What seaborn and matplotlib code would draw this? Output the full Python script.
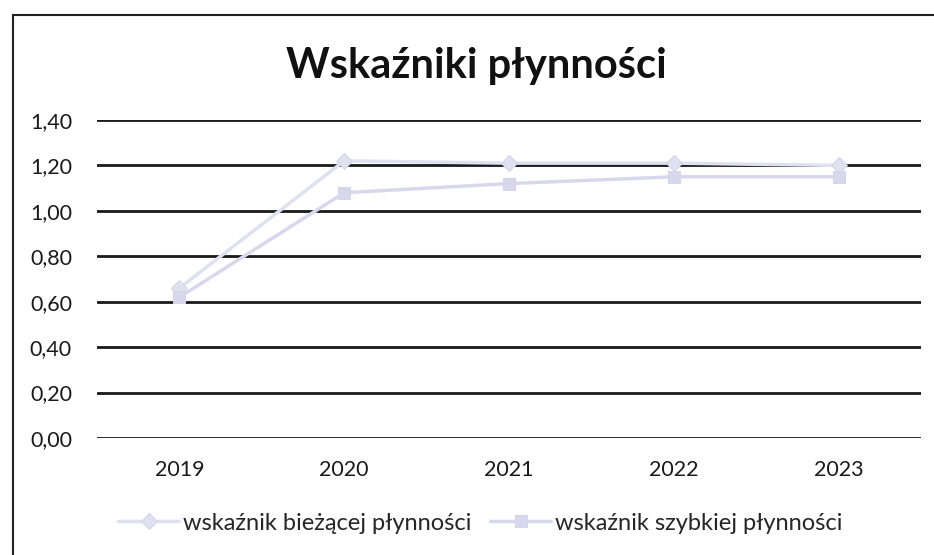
import pandas as pd
import seaborn as sns
import matplotlib.pyplot as plt
from matplotlib.patches import Rectangle
from matplotlib.ticker import FuncFormatter

years = ['2019', '2020', '2021', '2022', '2023']
biezaca = [0.66, 1.22, 1.21, 1.21, 1.20]
szybka = [0.62, 1.08, 1.12, 1.15, 1.15]
series_names = ['wskaźnik bieżącej płynności', 'wskaźnik szybkiej płynności']

df = pd.DataFrame({
    'rok': years * 2,
    'wartosc': biezaca + szybka,
    'seria': [series_names[0]] * 5 + [series_names[1]] * 5,
})

sns.set_style('white')
plt.rcParams['font.family'] = ['Lato', 'DejaVu Sans']

fig = plt.figure(figsize=(9.34, 5.55), dpi=100)
ax = fig.add_axes([97 / 934, 1 - 438 / 555, 824 / 934, 318 / 555])

# frame of the chart area
fig.patches.append(Rectangle((13 / 934, -0.05), 1.0, 1 - 15 / 555 + 0.05,
                             transform=fig.transFigure, fill=False,
                             edgecolor='#222222', linewidth=1.5))

for y in [0, 0.2, 0.4, 0.6, 0.8, 1.0, 1.2, 1.4]:
    ax.axhline(y, color='#1a1a1a', linewidth=2, zorder=0)

sns.lineplot(data=df, x='rok', y='wartosc', hue='seria', style='seria',
             palette=['#e0e0ee', '#d8d8ec'], markers=['D', 's'], dashes=False,
             linewidth=2.5, markersize=8, markeredgecolor='#d4d4ea', ax=ax,
             legend=True)

ax.set_xlim(-0.5, 4.5)
ax.set_ylim(0, 1.4)
ax.set_yticks([0, 0.2, 0.4, 0.6, 0.8, 1.0, 1.2, 1.4])
ax.yaxis.set_major_formatter(FuncFormatter(lambda v, p: f'{v:.2f}'.replace('.', ',')))
ax.set_xlabel('')
ax.set_ylabel('')
ax.tick_params(axis='both', length=0, labelsize=15.5, colors='#1a1a1a')
ax.tick_params(axis='y', pad=18)
ax.tick_params(axis='x', pad=16)
for s in ax.spines.values():
    s.set_visible(False)

fig.text(0.51, 1 - 66 / 555, 'Wskaźniki płynności', ha='center', va='center',
         fontsize=30, fontweight='bold', color='#111111')

handles, labels = ax.get_legend_handles_labels()
ax.legend(handles, labels, loc='center', bbox_to_anchor=(0.465, -0.268),
          ncol=2, frameon=False, fontsize=17, handlelength=2.6,
          columnspacing=0.8, handletextpad=0.15)

fig.savefig('out.png', dpi=100)
